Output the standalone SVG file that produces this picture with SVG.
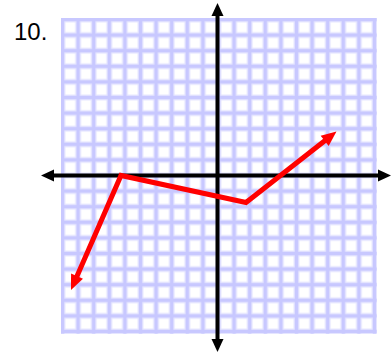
<svg xmlns="http://www.w3.org/2000/svg" width="392" height="353" viewBox="0 0 392 353">
<defs>
<pattern id="cell" x="61" y="18" width="15.6" height="15.6" patternUnits="userSpaceOnUse">
<rect width="15.6" height="15.6" fill="#c8c8ff"/>
<rect x="3.8" y="3.8" width="11" height="11" fill="#ffffff" stroke="#e4e4ff" stroke-width="1.2"/>
</pattern>
<marker id="redhead" markerUnits="userSpaceOnUse" markerWidth="20" markerHeight="16" refX="5" refY="6.5" orient="auto-start-reverse" overflow="visible">
<path d="M0,0 L15,6.5 L0,13 z" fill="#ff0000"/>
</marker>
</defs>
<style>
.lbl{font-family:"Liberation Sans",Arial,sans-serif;font-size:24px;fill:#000}
.axis{stroke:#000;stroke-width:4;fill:none}
.head{fill:#000}
.path{stroke:#ff0000;stroke-width:5;fill:none;stroke-linejoin:miter}
</style>
<g id="label"><text class="lbl" x="14" y="40">10.</text></g>
<g id="grid"><rect x="61" y="18" width="315.8" height="315.8" fill="url(#cell)"/></g>
<g id="axes">
<line class="axis" x1="52" y1="175.5" x2="381" y2="175.5"/>
<polygon class="head" points="41,175.5 54,169.5 54,181.5"/>
<polygon class="head" points="391,175.5 378,169.5 378,181.5"/>
<line class="axis" x1="217.5" y1="14" x2="217.5" y2="341"/>
<polygon class="head" points="217.5,3 211.5,16 223.5,16"/>
<polygon class="head" points="217.5,352 211.5,339 223.5,339"/>
</g>
<g id="connectors">
<polyline class="path" points="75,280.8 121,175.5 246,202.5 328.6,137.7" marker-start="url(#redhead)" marker-end="url(#redhead)"/>
</g>
</svg>
